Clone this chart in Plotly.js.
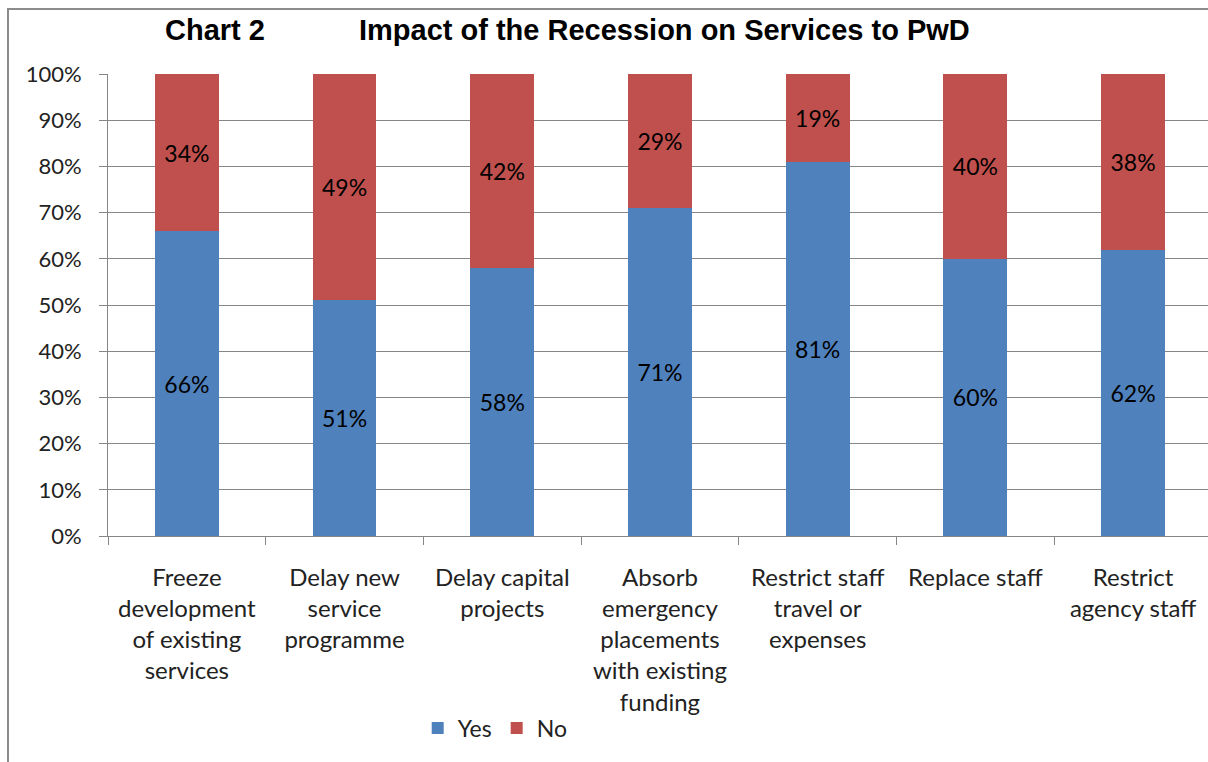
<!DOCTYPE html>
<html><head><meta charset="utf-8">
<script src="https://cdn.plot.ly/plotly-3.0.1.min.js"></script>
<style>html,body{margin:0;padding:0;background:#fff}#chart{width:1208px;height:762px}</style>
</head><body><div id="chart"></div>
<script>
const categories = [
  "Freeze<br>development<br>of existing<br>services",
  "Delay new<br>service<br>programme",
  "Delay capital<br>projects",
  "Absorb<br>emergency<br>placements<br>with existing<br>funding",
  "Restrict staff<br>travel or<br>expenses",
  "Replace staff",
  "Restrict<br>agency staff"
];
const yesValues = [66, 51, 58, 71, 81, 60, 62];
const noValues  = [34, 49, 42, 29, 19, 40, 38];
const yTickVals = [0,10,20,30,40,50,60,70,80,90,100];
const yTickText = ["0%","10%","20%","30%","40%","50%","60%","70%","80%","90%","100%"];

const labelFont = {family: "Lato, 'Open Sans', sans-serif", size: 23, color: "#000"};
const traces = [
  {type: "bar", name: "Yes", x: categories, y: yesValues, marker: {color: "#4F81BD"},
   text: yesValues.map(v => v + "%"), textposition: "inside", insidetextanchor: "middle",
   textfont: labelFont, hoverinfo: "skip", cliponaxis: false, constraintext: "none"},
  {type: "bar", name: "No", x: categories, y: noValues, marker: {color: "#C0504D"},
   text: noValues.map(v => v + "%"), textposition: "inside", insidetextanchor: "middle",
   textfont: labelFont, hoverinfo: "skip", cliponaxis: false, constraintext: "none"}
];
const layout = {
  width: 1208, height: 762,
  margin: {l: 108, r: 0, t: 74, b: 226},
  barmode: "stack", bargap: 0.595,
  paper_bgcolor: "#fff", plot_bgcolor: "#fff",
  font: {family: "Lato, 'Open Sans', sans-serif", size: 20, color: "#222"},
  showlegend: true,
  legend: {orientation: "h", x: 0.352, xanchor: "center", y: -0.4156, yanchor: "middle",
           font: {size: 23, color: "#222"}, traceorder: "normal", itemwidth: 30},
  xaxis: {type: "category", range: [-0.5, 6.475], tickson: "boundaries", ticks: "outside",
          ticklen: 8, tickcolor: "#868686", showline: true, linecolor: "#868686", linewidth: 1,
          showgrid: false, tickfont: {size: 24, color: "#222"}, ticklabelstandoff: 20,
          fixedrange: true},
  yaxis: {range: [0, 100], tickvals: yTickVals, ticktext: yTickText, ticks: "outside", ticklen: 8,
          tickcolor: "#868686", showline: true, linecolor: "#868686", showgrid: true,
          gridcolor: "#868686", gridwidth: 1, zeroline: false, tickfont: {size: 22, color: "#222"},
          ticklabelstandoff: 13, fixedrange: true},
  annotations: [
    {text: "<b>Chart 2</b>", xref: "paper", yref: "paper", x: 0.097, y: 1.095, showarrow: false,
     xanchor: "center", yanchor: "middle",
     font: {family: "'Liberation Sans', Arial, sans-serif", size: 29, color: "#000"}},
    {text: "<b>Impact of the Recession on Services to PwD</b>", xref: "paper", yref: "paper",
     x: 0.506, y: 1.095, showarrow: false, xanchor: "center", yanchor: "middle",
     font: {family: "'Liberation Sans', Arial, sans-serif", size: 29, color: "#000"}}
  ],
  shapes: [
    {type: "rect", xref: "paper", yref: "paper", x0: -0.0909, x1: 1.2, y0: -1, y1: 1.1407,
     line: {color: "#8c8c8c", width: 2}, fillcolor: "rgba(0,0,0,0)", layer: "below"}
  ]
};
Plotly.newPlot("chart", traces, layout, {displayModeBar: false, staticPlot: true});
</script></body></html>
